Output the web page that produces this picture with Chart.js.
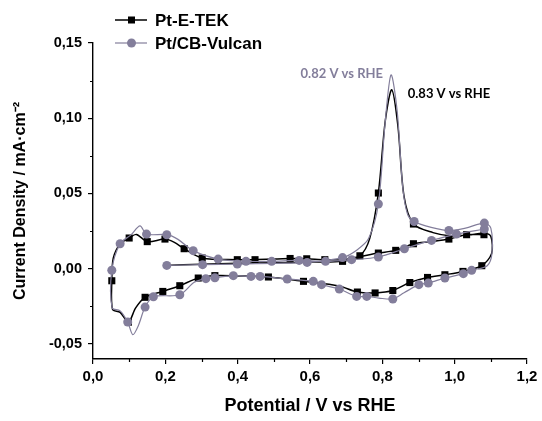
<!DOCTYPE html>
<html>
<head>
<meta charset="utf-8">
<script src="https://cdn.jsdelivr.net/npm/chart.js@4.4.1/dist/chart.umd.min.js"></script>
<style>
  html, body { margin: 0; padding: 0; background: #fff; }
  #wrap { width: 542px; height: 421px; }
</style>
</head>
<body>
<div id="wrap"><canvas id="myChart"></canvas></div>
<script>
// Pt-E-TEK: CO stripping scan from 0.2 V, reverse scan, second anodic scan
const tekX = [0.20, 0.30, 0.40, 0.50, 0.60, 0.69, 0.738, 0.765, 0.789, 0.808, 0.826, 0.843, 0.86, 0.886, 0.94, 0.99, 1.04, 1.08, 1.10,
    1.102, 1.075, 1.023, 0.973, 0.925, 0.876, 0.829, 0.78, 0.731, 0.68, 0.582, 0.485, 0.40, 0.337, 0.291, 0.24, 0.193, 0.144, 0.118, 0.098, 0.075, 0.054,
    0.052, 0.056, 0.075, 0.10, 0.12, 0.15, 0.199, 0.225, 0.252, 0.302, 0.399, 0.448, 0.545, 0.591, 0.641, 0.69, 0.74, 0.789, 0.837, 0.886, 0.935, 0.984, 1.033, 1.081];
const tekY = [0.0022, 0.0030, 0.0036, 0.0040, 0.0044, 0.0049, 0.0086, 0.020, 0.0503, 0.098, 0.1189, 0.095, 0.048, 0.0297, 0.0240, 0.0218, 0.0225, 0.0235, 0.0215,
    0.010, 0.002, -0.0018, -0.0040, -0.0058, -0.0092, -0.0145, -0.0161, -0.0155, -0.0115, -0.0084, -0.0055, -0.0048, -0.0046, -0.0062, -0.0113, -0.0151, -0.0190, -0.026, -0.0355, -0.029, -0.027,
    -0.008, 0.007, 0.0165, 0.0204, 0.0228, 0.0180, 0.0197, 0.0175, 0.0133, 0.0071, 0.0060, 0.0060, 0.0068, 0.0066, 0.0060, 0.0060, 0.0082, 0.0104, 0.0122, 0.0166, 0.0180, 0.0197, 0.0226, 0.0226];
const tekMarks = [0, 0, 0, 0, 0, 1, 1, 0, 1, 0, 0, 0, 0, 1, 0, 0, 0, 0, 0,
    0, 1, 1, 1, 1, 1, 1, 1, 1, 0, 1, 1, 0, 1, 1, 1, 1, 1, 0, 1, 0, 0,
    1, 0, 0, 1, 0, 1, 1, 0, 1, 1, 1, 1, 1, 1, 1, 0, 0, 1, 1, 1, 0, 1, 1, 1];

// Pt/CB-Vulcan
const vulX = [0.204, 0.303, 0.399, 0.50, 0.592, 0.69, 0.73, 0.762, 0.789, 0.807, 0.824, 0.841, 0.856, 0.87, 0.888, 0.935, 0.984, 1.03, 1.082, 1.10,
    1.103, 1.09, 1.047, 1.024, 0.973, 0.927, 0.901, 0.86, 0.829, 0.79, 0.757, 0.729, 0.681, 0.632, 0.609, 0.537, 0.462, 0.437, 0.388, 0.337, 0.312, 0.28, 0.24, 0.167, 0.144, 0.125, 0.11, 0.096, 0.075, 0.053,
    0.052, 0.075, 0.105, 0.13, 0.148, 0.204, 0.235, 0.277, 0.346, 0.423, 0.494, 0.57, 0.643, 0.715, 0.789, 0.861, 0.936, 1.005, 1.082];
const vulY = [0.0022, 0.0027, 0.0031, 0.0036, 0.0042, 0.0074, 0.0125, 0.020, 0.043, 0.095, 0.1288, 0.105, 0.055, 0.036, 0.0314, 0.0275, 0.0254, 0.0270, 0.0303, 0.027,
    0.010, 0.002, -0.0011, -0.0033, -0.0062, -0.0095, -0.0106, -0.016, -0.0201, -0.0195, -0.0184, -0.0184, -0.0135, -0.0106, -0.0084, -0.0068, -0.0051, -0.0051, -0.0046, -0.0060, -0.0066, -0.0090, -0.0173, -0.0186, -0.0255, -0.038, -0.0438, -0.0354, -0.028, -0.026,
    -0.001, 0.0166, 0.0225, 0.0285, 0.0230, 0.0226, 0.0195, 0.0120, 0.0064, 0.0049, 0.0049, 0.0055, 0.0049, 0.0060, 0.0078, 0.0133, 0.0188, 0.0230, 0.0264];
const vulMarks = [1, 1, 1, 0, 1, 1, 0, 0, 1, 0, 0, 0, 0, 0, 1, 0, 1, 0, 1, 0,
    0, 0, 1, 1, 1, 1, 1, 0, 1, 0, 1, 1, 1, 1, 1, 1, 1, 1, 1, 1, 1, 0, 1, 1, 1, 0, 0, 1, 0, 0,
    1, 1, 0, 0, 1, 1, 0, 1, 1, 1, 1, 1, 1, 1, 1, 1, 1, 1, 1];

const seriesNames = ['Pt-E-TEK', 'Pt/CB-Vulcan'];
const peakLabels = ['0.83 V vs RHE', '0.82 V vs RHE'];

const xTicks = [0, 0.2, 0.4, 0.6, 0.8, 1.0, 1.2];
const yTicks = [-0.05, 0, 0.05, 0.10, 0.15];
const xMinor = [0.1, 0.3, 0.5, 0.7, 0.9, 1.1];
const yMinor = [-0.025, 0.025, 0.075, 0.125];

const black = '#000000';
const grey = '#837e9b';
const font = '"Liberation Sans", Arial, sans-serif';

const toPoints = (xs, ys) => xs.map((x, i) => ({ x: x, y: ys[i] }));

// legend, peak labels and minor ticks
const extras = {
    id: 'extras',
    afterDraw(chart) {
        const ctx = chart.ctx;
        const xs = chart.scales.x;
        const ys = chart.scales.y;
        ctx.save();

        // minor ticks
        ctx.strokeStyle = '#000';
        ctx.lineWidth = 1.2;
        ctx.beginPath();
        xMinor.forEach(v => {
            const px = Math.round(xs.getPixelForValue(v)) + 0.5;
            ctx.moveTo(px, ys.bottom);
            ctx.lineTo(px, ys.bottom + 3);
        });
        yMinor.forEach(v => {
            const py = Math.round(ys.getPixelForValue(v)) + 0.5;
            ctx.moveTo(xs.left, py);
            ctx.lineTo(xs.left - 3, py);
        });
        ctx.stroke();

        // legend
        chart.data.datasets.forEach((ds, i) => {
            const y = 20 + i * 23;
            ctx.strokeStyle = ds.borderColor;
            ctx.lineWidth = ds.borderWidth;
            ctx.beginPath();
            ctx.moveTo(115, y);
            ctx.lineTo(147, y);
            ctx.stroke();
            ctx.fillStyle = ds.pointBackgroundColor;
            if (ds.pointStyle === 'rect') {
                ctx.fillRect(128, y - 3.5, 7, 7);
            } else {
                ctx.beginPath();
                ctx.arc(131.5, y, 4.5, 0, Math.PI * 2);
                ctx.fill();
            }
            ctx.fillStyle = '#000';
            ctx.font = 'bold 17px ' + font;
            ctx.textBaseline = 'middle';
            ctx.textAlign = 'left';
            ctx.fillText(seriesNames[i], 155, y + 1);
        });

        // peak labels
        ctx.font = 'bold 13px Lato, "Open Sans", sans-serif';
        ctx.textBaseline = 'middle';
        const tekPeak = tekY.indexOf(Math.max(...tekY));
        const vulPeak = vulY.indexOf(Math.max(...vulY));
        ctx.fillStyle = black;
        ctx.textAlign = 'left';
        ctx.fillText(peakLabels[0], xs.getPixelForValue(tekX[tekPeak]) + 16, ys.getPixelForValue(tekY[tekPeak]) + 4);
        ctx.fillStyle = grey;
        ctx.textAlign = 'right';
        ctx.fillText(peakLabels[1], xs.getPixelForValue(vulX[vulPeak]) - 8, ys.getPixelForValue(vulY[vulPeak]) - 1);
        ctx.restore();
    }
};

const ctx = document.getElementById('myChart');
new Chart(ctx, {
    type: 'scatter',
    data: {
        datasets: [
            {
                label: seriesNames[0],
                data: toPoints(tekX, tekY),
                showLine: true,
                tension: 0.3,
                borderColor: black,
                borderWidth: 1.5,
                pointStyle: 'rect',
                pointRadius: tekMarks.map(m => m ? 5 : 0),
                pointBackgroundColor: black,
                pointBorderColor: black,
                pointBorderWidth: 0,
                order: 1
            },
            {
                label: seriesNames[1],
                data: toPoints(vulX, vulY),
                showLine: true,
                tension: 0.3,
                borderColor: grey,
                borderWidth: 1.2,
                pointStyle: 'circle',
                pointRadius: vulMarks.map(m => m ? 4.5 : 0),
                pointBackgroundColor: grey,
                pointBorderColor: grey,
                pointBorderWidth: 0,
                order: 0
            }
        ]
    },
    options: {
        responsive: true,
        maintainAspectRatio: false,
        animation: false,
        events: [],
        layout: { padding: { top: 43, right: 15, left: 0, bottom: 0 } },
        plugins: {
            legend: { display: false },
            tooltip: { enabled: false }
        },
        scales: {
            x: {
                type: 'linear',
                min: 0,
                max: 1.2,
                afterBuildTicks: (scale) => { scale.ticks = xTicks.map(v => ({ value: v })); },
                afterFit: (scale) => { scale.height = 62; },
                border: { display: true, color: '#000', width: 1.4 },
                grid: { drawOnChartArea: false, drawTicks: true, tickLength: 5, color: '#000', lineWidth: 1.2 },
                ticks: {
                    padding: 4,
                    color: '#000',
                    font: { family: font, size: 15, weight: 'bold' },
                    callback: (v) => Number(v).toFixed(1).replace('.', ',')
                },
                title: {
                    display: true,
                    text: 'Potential / V vs RHE',
                    color: '#000',
                    font: { family: font, size: 18, weight: 'bold' },
                    padding: { top: 0, bottom: 4 }
                }
            },
            y: {
                type: 'linear',
                min: -0.06,
                max: 0.15,
                afterBuildTicks: (scale) => { scale.ticks = yTicks.map(v => ({ value: v })); },
                afterFit: (scale) => { scale.width = 93; },
                border: { display: true, color: '#000', width: 1.4 },
                grid: { drawOnChartArea: false, drawTicks: true, tickLength: 5, color: '#000', lineWidth: 1.2 },
                ticks: {
                    padding: 6,
                    color: '#000',
                    font: { family: font, size: 14.5, weight: 'bold' },
                    callback: (v) => Number(v).toFixed(2).replace('.', ',')
                },
                title: {
                    display: true,
                    text: 'Current Density / mA·cm⁻²',
                    color: '#000',
                    font: { family: font, size: 16, weight: 'bold' },
                    padding: { top: 11, bottom: 0 }
                }
            }
        }
    },
    plugins: [extras]
});
</script>
</body>
</html>
